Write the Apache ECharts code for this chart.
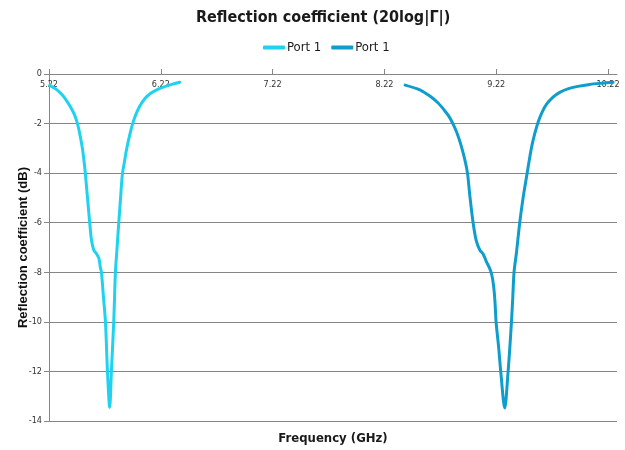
<!DOCTYPE html>
<html>
<head>
<meta charset="utf-8">
<script src="https://cdn.jsdelivr.net/npm/echarts@6/dist/echarts.min.js"></script>
<style>html,body{margin:0;padding:0;background:#fff}#c{width:625px;height:450px}</style>
</head>
<body>
<div id="c"></div>
<script>
var xTicks = [5.22, 6.22, 7.22, 8.22, 9.22, 10.22];
var yTicks = [0, -2, -4, -6, -8, -10, -12, -14];

var freq1 = [5.226, 5.2797, 5.3334, 5.3781, 5.4139, 5.4454, 5.4678, 5.4857, 5.5036, 5.5187, 5.5304, 5.5447, 5.5644, 5.584, 5.600, 5.620, 5.645, 5.667, 5.679, 5.689, 5.707, 5.725, 5.743, 5.763, 5.778, 5.799, 5.814, 5.829, 5.844, 5.860, 5.8765, 5.8926, 5.9105, 5.9302, 5.9508, 5.9731, 6.000, 6.0313, 6.076, 6.1297, 6.1923, 6.2549, 6.3175, 6.389];
var port1a = [-0.46, -0.60, -0.82, -1.08, -1.34, -1.62, -1.90, -2.21, -2.61, -3.00, -3.40, -4.0, -5.0, -6.0, -6.7, -7.10, -7.25, -7.45, -7.8, -8.0, -9.0, -10.0, -12.0, -13.45, -12.0, -10.0, -8.0, -7.0, -6.0, -5.0, -4.03, -3.60, -3.12, -2.69, -2.29, -1.93, -1.60, -1.30, -1.00, -0.78, -0.62, -0.51, -0.42, -0.33];

var freq2 = [8.405, 8.5367, 8.626, 8.698, 8.752, 8.797, 8.833, 8.868, 8.898, 8.925, 8.948, 8.964, 8.986, 9.013, 9.04, 9.073, 9.105, 9.1335, 9.1604, 9.1809, 9.1966, 9.2082, 9.2189, 9.241, 9.260, 9.296, 9.326, 9.342, 9.356, 9.368, 9.379, 9.401, 9.430, 9.46, 9.4955, 9.5152, 9.5376, 9.5644, 9.5957, 9.6315, 9.6718, 9.7254, 9.788, 9.8596, 9.949, 10.0564, 10.1637, 10.2648];
var port1b = [-0.45, -0.64, -0.89, -1.16, -1.44, -1.71, -2.01, -2.37, -2.77, -3.20, -3.64, -4.04, -5.0, -6.0, -6.7, -7.10, -7.28, -7.59, -7.83, -8.12, -8.56, -9.15, -10.02, -11.0, -12.0, -13.48, -12.0, -11.0, -10.0, -9.0, -8.0, -7.2, -6.0, -5.0, -4.02, -3.48, -2.92, -2.41, -1.93, -1.53, -1.21, -0.94, -0.74, -0.60, -0.50, -0.42, -0.37, -0.33];

function pairs(xs, ys) { return xs.map(function (x, i) { return [x, ys[i]]; }); }

var chart = echarts.init(document.getElementById('c'), null, {renderer: 'canvas'});
var gray = '#868686';
chart.setOption({
  animation: false,
  backgroundColor: '#ffffff',
  title: {
    text: 'Reflection coefficient (20log|Γ|)',
    left: 196, top: 10, padding: 0,
    textStyle: {fontFamily: 'DejaVu Sans Condensed', fontSize: 16, fontWeight: 'bold', color: '#1a1a1a'}
  },
  legend: {
    top: 41, left: 263, padding: 0,
    icon: 'roundRect',
    itemWidth: 22, itemHeight: 4, itemGap: 10,
    formatter: function (n) { return n.trim(); },
    textStyle: {fontFamily: 'DejaVu Sans Condensed', fontSize: 13, color: '#1a1a1a', padding: [0, 0, 0, -3]}
  },
  grid: {left: 49, right: 8, top: 74, bottom: 23, containLabel: false},
  xAxis: [{
    type: 'value', position: 'top', min: 5.22, max: 10.3,
    axisLine: {show: true, onZero: false, lineStyle: {color: gray, width: 1}},
    axisTick: {show: true, inside: false, length: 5, lineStyle: {color: gray}, customValues: xTicks},
    axisLabel: {show: true, inside: true, margin: 6, fontFamily: 'DejaVu Sans Condensed', fontSize: 9, color: '#333',
      customValues: xTicks, formatter: function (v) { return v.toFixed(2); }},
    splitLine: {show: false}
  }, {
    type: 'value', position: 'bottom', min: 5.22, max: 10.3,
    axisLine: {show: false}, axisTick: {show: false}, axisLabel: {show: false}, splitLine: {show: false},
    name: 'Frequency (GHz)', nameLocation: 'middle', nameGap: 11,
    nameTextStyle: {fontFamily: 'DejaVu Sans Condensed', fontSize: 13, fontWeight: 'bold', color: '#1a1a1a'}
  }],
  yAxis: {
    type: 'value', min: -14, max: 0, interval: 2,
    axisLine: {show: true, onZero: false, lineStyle: {color: gray, width: 1}},
    axisTick: {show: true, length: 5, lineStyle: {color: gray}},
    axisLabel: {fontFamily: 'DejaVu Sans Condensed', fontSize: 9, color: '#333', margin: 7},
    splitLine: {show: true, lineStyle: {color: gray, width: 1}},
    name: 'Reflection coefficient (dB)', nameLocation: 'middle', nameGap: 19, nameMoveOverlap: false,
    nameTextStyle: {fontFamily: 'Liberation Sans', fontSize: 13, fontWeight: 'bold', color: '#111'}
  },
  series: [{
    name: 'Port 1', type: 'line', xAxisIndex: 0, symbol: 'none', smooth: 0.3,
    lineStyle: {color: '#1ed2f0', width: 3, cap: 'round'}, itemStyle: {color: '#1ed2f0'},
    data: pairs(freq1, port1a)
  }, {
    name: 'Port 1 ', type: 'line', xAxisIndex: 0, symbol: 'none', smooth: 0.3,
    lineStyle: {color: '#0e9dcc', width: 3, cap: 'round'}, itemStyle: {color: '#0e9dcc'},
    data: pairs(freq2, port1b)
  }]
});
</script>
</body>
</html>
